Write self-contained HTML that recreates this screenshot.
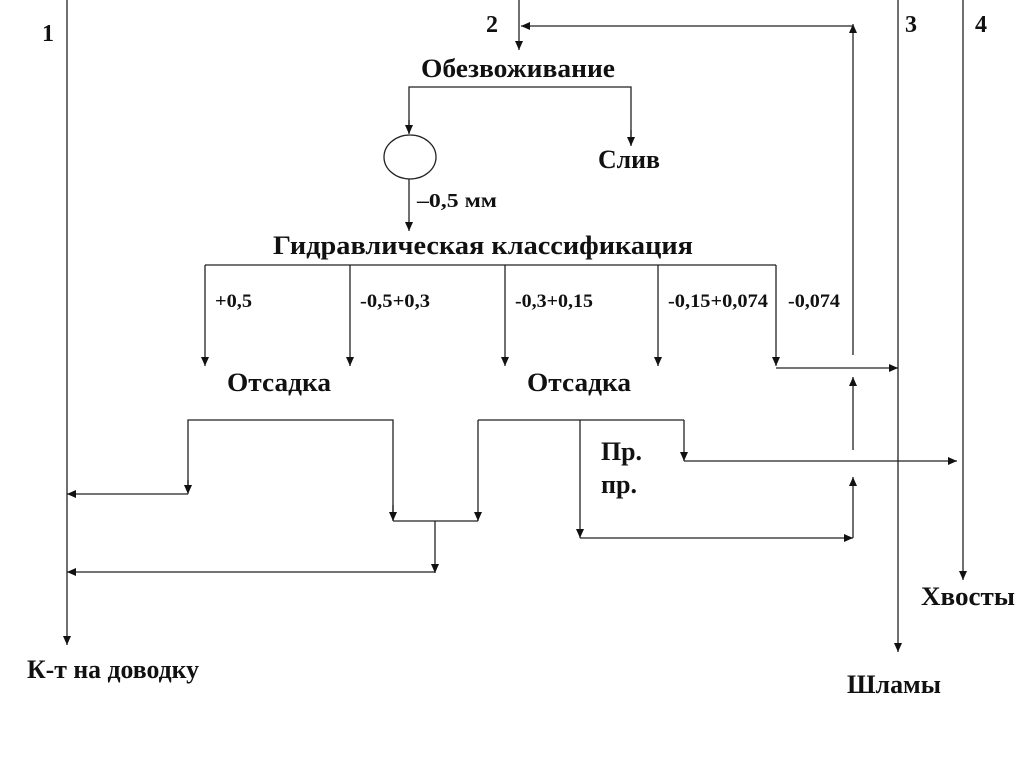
<!DOCTYPE html>
<html><head><meta charset="utf-8"><style>
html,body{margin:0;padding:0;background:#fff;}
svg{display:block;}
text{font-family:"Liberation Serif",serif;font-weight:bold;fill:#111;}
</style></head><body>
<svg width="1024" height="768" viewBox="0 0 1024 768" xmlns="http://www.w3.org/2000/svg">
<defs>
<marker id="a" markerWidth="9" markerHeight="10" refX="9" refY="5" orient="auto" markerUnits="userSpaceOnUse">
<path d="M0,1 L9,5 L0,9 z" fill="#111"/></marker>
</defs>
<g stroke="#222" stroke-width="1.3" fill="none">
<line x1="67" y1="0" x2="67" y2="645" marker-end="url(#a)"/>
<line x1="519" y1="0" x2="519" y2="50" marker-end="url(#a)"/>
<line x1="898" y1="0" x2="898" y2="652" marker-end="url(#a)"/>
<line x1="963" y1="0" x2="963" y2="580" marker-end="url(#a)"/>
<line x1="853" y1="355" x2="853" y2="24" marker-end="url(#a)"/>
<line x1="853" y1="26" x2="521" y2="26" marker-end="url(#a)"/>
<polyline points="409,133 409,87 631,87 631,145"/>
<line x1="409" y1="120" x2="409" y2="134" marker-end="url(#a)"/>
<line x1="631" y1="130" x2="631" y2="146" marker-end="url(#a)"/>
<ellipse cx="410" cy="157" rx="26" ry="22"/>
<line x1="409" y1="179" x2="409" y2="231" marker-end="url(#a)"/>
<line x1="205" y1="265" x2="776" y2="265"/>
<line x1="205" y1="265" x2="205" y2="366" marker-end="url(#a)"/>
<line x1="350" y1="265" x2="350" y2="366" marker-end="url(#a)"/>
<line x1="505" y1="265" x2="505" y2="366" marker-end="url(#a)"/>
<line x1="658" y1="265" x2="658" y2="366" marker-end="url(#a)"/>
<line x1="776" y1="265" x2="776" y2="366" marker-end="url(#a)"/>
<line x1="776" y1="368" x2="898" y2="368" marker-end="url(#a)"/>
<polyline points="393,520 393,420 188,420 188,492"/>
<line x1="188" y1="480" x2="188" y2="494" marker-end="url(#a)"/>
<line x1="393" y1="505" x2="393" y2="521" marker-end="url(#a)"/>
<line x1="188" y1="494" x2="67" y2="494" marker-end="url(#a)"/>
<line x1="393" y1="521" x2="478" y2="521"/>
<line x1="478" y1="420" x2="478" y2="521" marker-end="url(#a)"/>
<line x1="435" y1="521" x2="435" y2="573" marker-end="url(#a)"/>
<line x1="435" y1="572" x2="67" y2="572" marker-end="url(#a)"/>
<line x1="478" y1="420" x2="684" y2="420"/>
<line x1="684" y1="420" x2="684" y2="461" marker-end="url(#a)"/>
<line x1="684" y1="461" x2="957" y2="461" marker-end="url(#a)"/>
<line x1="580" y1="420" x2="580" y2="538" marker-end="url(#a)"/>
<line x1="580" y1="538" x2="853" y2="538" marker-end="url(#a)"/>
<line x1="853" y1="538" x2="853" y2="477" marker-end="url(#a)"/>
<line x1="853" y1="450" x2="853" y2="377" marker-end="url(#a)"/>
</g>
<text x="42" y="41" font-size="24">1</text>
<text x="486" y="32" font-size="24">2</text>
<text x="905" y="32" font-size="24">3</text>
<text x="975" y="32" font-size="24">4</text>
<text x="421" y="77" font-size="26" textLength="194" lengthAdjust="spacingAndGlyphs">Обезвоживание</text>
<text x="598" y="168" font-size="26" textLength="62" lengthAdjust="spacingAndGlyphs">Слив</text>
<text x="417" y="207" font-size="20" textLength="80" lengthAdjust="spacingAndGlyphs">–0,5 мм</text>
<text x="273" y="254" font-size="26" textLength="420" lengthAdjust="spacingAndGlyphs">Гидравлическая  классификация</text>
<text x="215" y="307" font-size="19" textLength="37" lengthAdjust="spacingAndGlyphs">+0,5</text>
<text x="360" y="307" font-size="19" textLength="70" lengthAdjust="spacingAndGlyphs">-0,5+0,3</text>
<text x="515" y="307" font-size="19" textLength="78" lengthAdjust="spacingAndGlyphs">-0,3+0,15</text>
<text x="668" y="307" font-size="19" textLength="100" lengthAdjust="spacingAndGlyphs">-0,15+0,074</text>
<text x="788" y="307" font-size="19" textLength="52" lengthAdjust="spacingAndGlyphs">-0,074</text>
<text x="227" y="391" font-size="26" textLength="104" lengthAdjust="spacingAndGlyphs">Отсадка</text>
<text x="527" y="391" font-size="26" textLength="104" lengthAdjust="spacingAndGlyphs">Отсадка</text>
<text x="601" y="460" font-size="26" textLength="41" lengthAdjust="spacingAndGlyphs">Пр.</text>
<text x="601" y="493" font-size="26" textLength="36" lengthAdjust="spacingAndGlyphs">пр.</text>
<text x="27" y="678" font-size="26" textLength="172" lengthAdjust="spacingAndGlyphs">К-т на доводку</text>
<text x="921" y="605" font-size="26" textLength="94" lengthAdjust="spacingAndGlyphs">Хвосты</text>
<text x="847" y="693" font-size="26" textLength="94" lengthAdjust="spacingAndGlyphs">Шламы</text>
</svg>
</body></html>
